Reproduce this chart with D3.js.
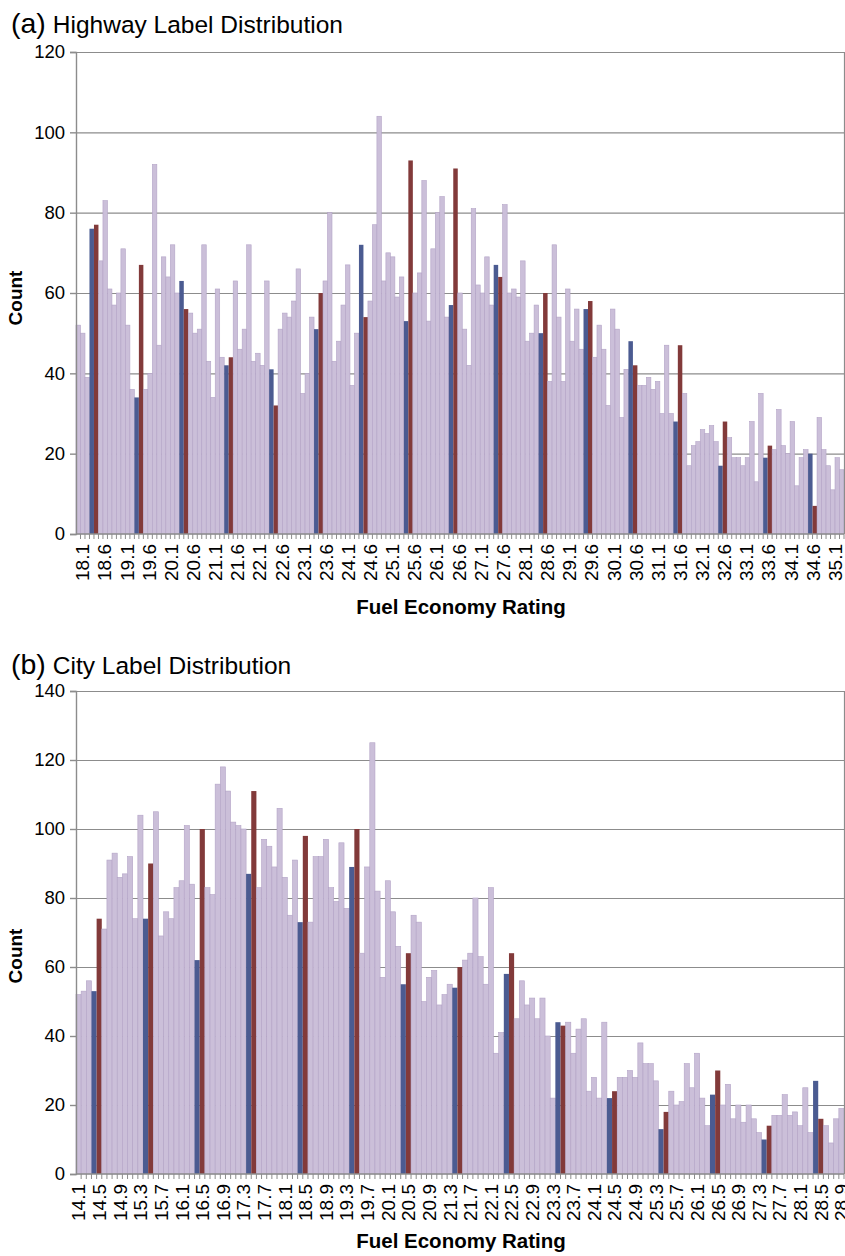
<!DOCTYPE html>
<html>
  <head>
    <meta charset="utf-8">
    <title>Fuel economy label distributions</title>
    <script src="https://d3js.org/d3.v7.min.js" charset="utf-8"></script>
    <style>
      body{ margin:0; background:#fff; font-family:'Liberation Sans', Arial, sans-serif; }
      svg text{ fill:#000; }
    </style>
  </head>
  <body>
    <svg></svg>
    <script>

    //begin: data
    // highway ratings 18.1 .. 35.1, counts per 0.1 mpg
    var hwyStart = 18.1;
    var hwyCounts = [52,50,39,76,77,68,83,61,57,60,
      71,52,36,34,67,36,40,92,47,69,
      64,72,60,63,56,55,50,51,72,43,
      34,61,44,42,44,63,46,51,72,43,
      45,42,63,41,32,51,55,54,58,66,
      35,40,54,51,60,63,80,43,48,57,
      67,37,50,72,54,58,77,104,63,70,
      69,59,64,53,93,60,65,88,53,71,
      80,84,54,57,91,60,51,42,81,62,
      60,69,57,67,64,82,60,61,59,68,
      48,50,57,50,60,38,72,54,38,61,
      48,56,46,56,58,44,52,46,32,56,
      51,29,41,48,42,37,37,39,36,38,
      30,47,30,28,47,35,17,22,23,26,
      25,27,23,17,28,24,19,19,17,19,
      28,13,35,19,22,21,31,22,20,28,
      12,19,21,20,7,29,21,17,11,19,
      16];
    var hwyTicks = [0,20,40,60,80,100,120];

    // city ratings 14.1 .. 28.9
    var cityStart = 14.1;
    var cityCounts = [52,53,56,53,74,71,91,93,86,87,
      92,74,104,74,90,105,69,76,74,83,
      85,101,84,62,100,83,81,113,118,111,
      102,101,100,87,111,83,97,95,89,106,
      86,75,91,73,98,73,92,92,97,83,
      79,96,77,89,100,64,89,125,82,57,
      85,76,66,55,64,75,73,50,57,59,
      49,52,55,54,60,62,64,80,63,55,
      83,35,41,58,64,45,56,49,51,45,
      51,40,22,44,43,44,35,42,45,24,
      28,22,44,22,24,28,28,30,28,38,
      32,32,27,13,18,24,20,21,32,25,
      35,22,14,23,30,20,26,16,20,15,
      20,16,12,10,14,17,17,23,17,18,
      14,25,12,27,16,14,9,16,19];
    var cityTicks = [0,20,40,60,80,100,120,140];
    //end: data

    // colours: ratings ending in .4 blue, ending in .5 red, rest lavender
    var colLight = "#cbbfd9", colLightEdge = "#b3a3c6",
        colBlue = "#4b5b91", colRed = "#823a3a";

    function ratings(start, n){
      var out = [];
      for (var i=0; i<n; i++) out.push((Math.round(start*10)+i)/10);
      return out.map(function(v){ return v.toFixed(1); });
    }

    var svg = d3.select("svg").attr("width", 845).attr("height", 1256);

    function drawPanel(conf){
      var cats = ratings(conf.start, conf.counts.length);
      var x = d3.scaleBand().domain(cats).range([76, 844]).padding(0);
      var y = d3.scaleLinear().domain([0, d3.max(conf.ticks)]).range([conf.base, conf.top]);
      var labs = cats.filter(function(d,i){ return i % conf.every == 0; });
      // label positions (the source spreads them a little tighter than the bars)
      var xl = d3.scalePoint().domain(labs)
        .range(conf.labRange || [x(labs[0])+x.bandwidth()/2, x(labs[labs.length-1])+x.bandwidth()/2]);

      var g = svg.append("g");

      // title
      var t = g.append("text").attr("x", 11).attr("y", conf.titleY);
      t.append("tspan").style("font-size", "28.5px").text(conf.letter);
      t.append("tspan").attr("dx", 7).style("font-size", "24.5px").text(conf.title);

      // gridlines
      g.append("g").selectAll("line").data(conf.ticks.slice(1)).enter()
        .append("line")
          .attr("x1", 76).attr("x2", 844)
          .attr("y1", function(d){ return y(d)+0.5; })
          .attr("y2", function(d){ return y(d)+0.5; })
          .attr("stroke", "#8c8c8c").attr("stroke-width", 1.2);

      // bars
      g.append("g").selectAll("rect").data(conf.counts).enter()
        .append("rect")
          .attr("x", function(d,i){ return x(cats[i]); })
          .attr("width", x.bandwidth())
          .attr("y", function(d){ return y(d); })
          .attr("height", function(d){ return conf.base - y(d); })
          .attr("fill", function(d,i){
            var last = cats[i].slice(-1);
            return last=="4" ? colBlue : (last=="5" ? colRed : colLight);
          })
          .attr("stroke", function(d,i){
            var last = cats[i].slice(-1);
            return (last=="4"||last=="5") ? "none" : colLightEdge;
          })
          .attr("stroke-width", 0.6);

      // right border
      g.append("line").attr("x1", 844.5).attr("x2", 844.5)
        .attr("y1", conf.top).attr("y2", conf.base)
        .attr("stroke", "#8c8c8c").attr("stroke-width", 1.2);

      // y axis
      var yAxis = g.append("g").attr("transform", "translate(76,0)")
        .call(d3.axisLeft(y).tickValues(conf.ticks).tickSize(6).tickPadding(5));
      yAxis.selectAll("text").style("font-size", "18.5px").style("font-family", "'Liberation Sans', Arial, sans-serif");
      yAxis.selectAll("line,path").attr("stroke", "#8c8c8c").attr("stroke-width", 1.4);

      // x axis: minor ticks at each category, labels every n-th
      var xg = g.append("g").attr("transform", "translate(0,"+conf.base+")");
      xg.append("line").attr("x1", 76).attr("x2", 844).attr("stroke", "#8c8c8c").attr("stroke-width", 1.4);
      xg.selectAll(".mt").data(cats).enter().append("line")
        .attr("x1", function(d){ return x(d)+x.bandwidth(); })
        .attr("x2", function(d){ return x(d)+x.bandwidth(); })
        .attr("y1", 0).attr("y2", 5)
        .attr("stroke", "#8c8c8c").attr("stroke-width", 1);
      xg.selectAll(".lab").data(labs).enter()
        .append("text")
          .attr("transform", function(d){ return "translate("+xl(d)+",10) rotate(-90)"; })
          .attr("dy", "0.36em")
          .attr("text-anchor", "end")
          .style("font-size", "19px")
          .text(function(d){ return d; });

      // axis titles
      g.append("text")
        .attr("x", 461).attr("y", conf.xTitleY)
        .attr("text-anchor", "middle")
        .style("font-size", "20.5px").style("font-weight", "bold")
        .text("Fuel Economy Rating");
      g.append("text")
        .attr("transform", "translate(22,"+conf.yTitleY+") rotate(-90)")
        .attr("text-anchor", "middle")
        .style("font-size", "19px").style("font-weight", "bold")
        .text("Count");
    }

    drawPanel({ letter:"(a)", title:"Highway Label Distribution", titleY:33,
      start:hwyStart, counts:hwyCounts, ticks:hwyTicks, every:5, labRange:[82.5, 835],
      top:52, base:534, xTitleY:614, yTitleY:298 });

    drawPanel({ letter:"(b)", title:"City Label Distribution", titleY:674,
      start:cityStart, counts:cityCounts, ticks:cityTicks, every:4,
      top:691, base:1174, xTitleY:1248, yTitleY:956 });

    </script>
  </body>
</html>
